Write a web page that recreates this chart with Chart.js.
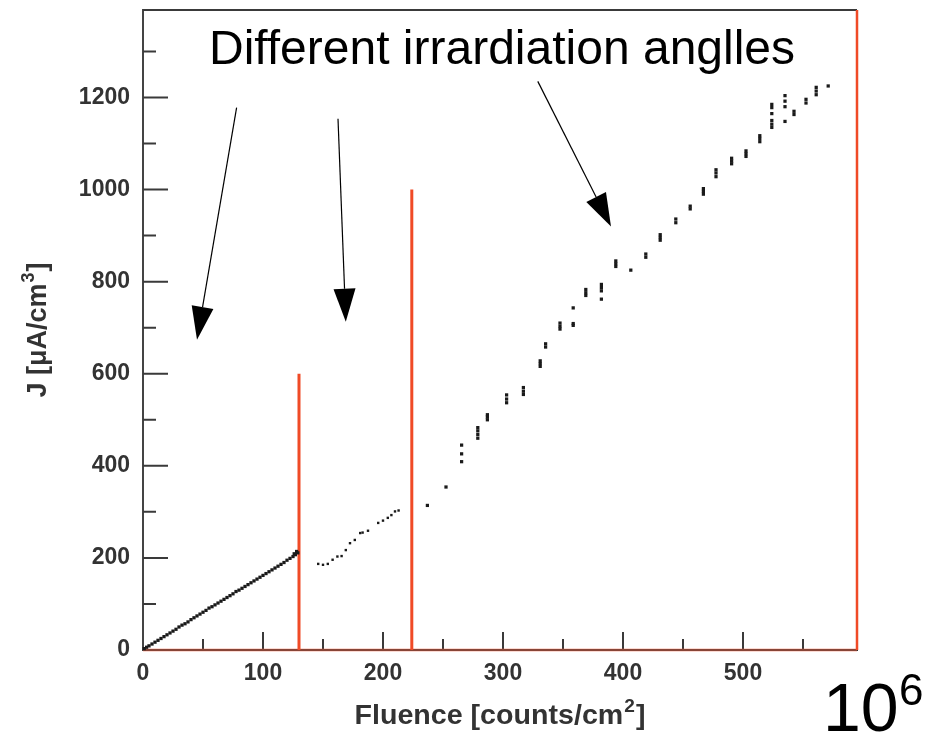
<!DOCTYPE html>
<html>
<head>
<meta charset="utf-8">
<script src="https://cdn.jsdelivr.net/npm/chart.js@4/dist/chart.umd.min.js"></script>
<style>
  html, body { margin: 0; padding: 0; background: #fff; }
</style>
</head>
<body>
<canvas id="chart" width="942" height="734"></canvas>
<script>
// first irradiation angle (dense run of points)
const seg1F = [1,3,5,7.5,10,12.5,15,17.5,20,22.5,25,27.5,30,32.5,35,37.5,40,42.5,45,47.5,50,52.5,55,57.5,60,62.5,65,67.5,70,72.5,75,77.5,80,82.5,85,87.5,90,92.5,95,97.5,100,102.5,105,107.5,110,112.5,115,117.5,120,122.5,125,127,129,126,128];
const seg1J = [3,6,9,13,17,21,25,29,33,37,41,45,50,54,57,61,66,70,74,78,82,86,91,94,98,102,106,110,114,118,122,127,130,134,138,142,146,150,154,158,162,166,170,174,178,182,186,190,195,199,203,207,211,209,214];

// second angle
const seg2F = [146,150,154,158,162,165.5,169,172.5,176.5,181,183,187.5,196,200,204,207,210,213];
const seg2J = [187,185,187,196,203,204,217,232,239,254,255,259,276,281,287,293,301,303];

// third angle (clusters)
const seg3F = [237,252.5,265.5,265.5,265.5,279,279,279,279,287,287,287,303,303,303,317,317,317,331,331,331,335.5,335.5,347.5,347.5,347.5,358.5,358.5,358.5,369,369,369,382,382,382,382,394,394,394,406.5,419,419,431,431,431,444,444,456,456,467,467,467,477.5,477.5,477.5,490.5,490.5,490.5,502.5,502.5,502.5,514,514,514,524,524,524,524,524,524,535,535,535,535,542.5,542.5,552.5,552.5,561,561,561,571];
const seg3J = [314,354,445,426,409,460,468,476,483,500,506,511,537,545,554,555,562,570,616,622,628,658,665,697,703,710,705,709,743,770,776,783,762,780,787,794,833,839,845,825,853,860,890,896,902,928,936,958,964,990,996,1002,1028,1036,1043,1056,1062,1068,1072,1078,1084,1104,1111,1117,1135,1142,1150,1165,1178,1185,1148,1180,1192,1204,1163,1170,1188,1196,1206,1214,1222,1225];

// red separators: fluence position and height
const markerF = [130, 224, 595];
const markerTop = [600, 1000, 1390];

// axes
const xMin = 0, xMax = 595;
const yMin = 0, yMax = 1390;
const xMajor = [0, 100, 200, 300, 400, 500];
const xMinor = [50, 150, 250, 350, 450, 550];
const yMajor = [0, 200, 400, 600, 800, 1000, 1200];
const yMinor = [100, 300, 500, 700, 900, 1100, 1300];

const pts = (xs, ys) => xs.map((v, i) => ({ x: v, y: ys[i] }));

const FONT = "'Liberation Sans', Arial, sans-serif";
const RED = '#f04a26';
const AXIS_INK = '#333';

const datasets = [
  { data: pts(seg1F, seg1J), pointRadius: 2.3 },
  { data: pts(seg2F, seg2J), pointRadius: 1.7 },
  { data: pts(seg3F, seg3J), pointRadius: 2.3 }
].map(d => Object.assign(d, {
  type: 'scatter', pointStyle: 'rect', backgroundColor: '#1a1a1a',
  borderWidth: 0, showLine: false, clip: false
}));

markerF.forEach((f, i) => {
  datasets.push({
    type: 'line', data: [{ x: f, y: 0 }, { x: f, y: markerTop[i] }],
    borderColor: RED, borderWidth: i === 2 ? 2.5 : 3, pointRadius: 0, clip: false
  });
});
// faint red base line along the x axis
datasets.push({
  type: 'line', data: [{ x: 0, y: 0 }, { x: xMax, y: 0 }],
  borderColor: 'rgba(240,90,60,0.45)', borderWidth: 3, pointRadius: 0, clip: false
});

// annotation arrows, given as [fromF, fromJ, tipF, tipJ]
const arrows = [[78, 1178, 45, 674], [162.5, 1154, 169, 713], [329, 1235, 390, 920]];

// title with a raised superscript, centred at (cx, cy)
function drawTitle(ctx, main, sup, tail, cx, cy, rot, stretch) {
  const big = 'bold 27px ' + FONT, small = 'bold 18px ' + FONT;
  ctx.font = big; const w1 = ctx.measureText(main).width, w3 = ctx.measureText(tail).width;
  ctx.font = small; const w2 = ctx.measureText(sup).width;
  const total = w1 + w2 + w3 + 2;
  ctx.save();
  ctx.translate(cx, cy);
  ctx.rotate(rot);
  ctx.scale(stretch, 1);
  ctx.fillStyle = AXIS_INK;
  ctx.textAlign = 'left';
  ctx.textBaseline = 'alphabetic';
  let px = -total / 2;
  ctx.font = big; ctx.fillText(main, px, 10); px += w1 + 1;
  ctx.font = small; ctx.fillText(sup, px, -2); px += w2 + 1;
  ctx.font = big; ctx.fillText(tail, px, 10);
  ctx.restore();
}

const frame = {
  id: 'frame',
  beforeDatasetsDraw(chart) {
    const { ctx, chartArea: a, scales: { x, y } } = chart;
    ctx.save();
    ctx.strokeStyle = '#3a3a3a';
    ctx.lineWidth = 2;
    ctx.beginPath();
    ctx.moveTo(a.left, a.top); ctx.lineTo(a.right, a.top);
    const tick = (vals, len) => vals.forEach(v => {
      if (v === 0) return;
      const px = x.getPixelForValue(v);
      ctx.moveTo(px, a.bottom); ctx.lineTo(px, a.bottom - len);
    });
    const ytick = (vals, len) => vals.forEach(v => {
      if (v === 0) return;
      const py = y.getPixelForValue(v);
      ctx.moveTo(a.left, py); ctx.lineTo(a.left + len, py);
    });
    tick(xMajor, 18); tick(xMinor, 11);
    ytick(yMajor, 25); ytick(yMinor, 13);
    ctx.stroke();
    ctx.restore();
  },
  afterDatasetsDraw(chart) {
    const { ctx, chartArea: a, scales: { x, y } } = chart;
    ctx.save();
    ctx.strokeStyle = '#000';
    ctx.fillStyle = '#000';
    ctx.lineWidth = 1.2;
    arrows.forEach(([f0, j0, f1, j1]) => {
      const x0 = x.getPixelForValue(f0), y0 = y.getPixelForValue(j0);
      const x1 = x.getPixelForValue(f1), y1 = y.getPixelForValue(j1);
      const len = Math.hypot(x1 - x0, y1 - y0);
      const ux = (x1 - x0) / len, uy = (y1 - y0) / len;
      const bx = x1 - ux * 33, by = y1 - uy * 33;
      ctx.beginPath();
      ctx.moveTo(x0, y0); ctx.lineTo(bx, by);
      ctx.stroke();
      ctx.beginPath();
      ctx.moveTo(x1, y1);
      ctx.lineTo(bx - uy * 11, by + ux * 11);
      ctx.lineTo(bx + uy * 11, by - ux * 11);
      ctx.closePath();
      ctx.fill();
    });

    ctx.textBaseline = 'alphabetic';
    ctx.textAlign = 'center';
    ctx.font = '48px ' + FONT;
    ctx.fillText('Different irrardiation anglles', 502, 64);

    ctx.textAlign = 'left';
    ctx.font = '68px ' + FONT;
    ctx.fillText('10', 823, 731);
    ctx.font = '44px ' + FONT;
    ctx.fillText('6', 899, 705);
    ctx.restore();

    // axis titles
    drawTitle(ctx, 'Fluence [counts/cm', '2', ']', (a.left + a.right) / 2, 714, 0, 1.06);
    drawTitle(ctx, 'J [\u03bcA/cm', '3', ']', 36, (a.top + a.bottom) / 2, -Math.PI / 2, 1);
  }
};

new Chart(document.getElementById('chart'), {
  data: { datasets },
  options: {
    responsive: false,
    animation: false,
    layout: { padding: { top: 10, right: 85, left: 0, bottom: 0 } },
    plugins: { legend: { display: false }, tooltip: { enabled: false } },
    scales: {
      x: {
        type: 'linear', min: xMin, max: xMax,
        afterFit: s => { s.height = 84; s.paddingLeft = 0; s.paddingRight = 0; },
        afterBuildTicks: s => { s.ticks = xMajor.map(v => ({ value: v })); },
        grid: { display: false, drawTicks: false },
        border: { color: '#333', width: 2 },
        ticks: {
          color: AXIS_INK, padding: 10, callback: v => String(v),
          font: { family: FONT, size: 23, weight: 'bold' }
        },
        title: { display: false }
      },
      y: {
        type: 'linear', min: yMin, max: yMax,
        afterFit: s => { s.width = 143; s.paddingTop = 0; s.paddingBottom = 0; },
        afterBuildTicks: s => { s.ticks = yMajor.map(v => ({ value: v })); },
        grid: { display: false, drawTicks: false },
        border: { color: '#444', width: 2 },
        ticks: {
          color: AXIS_INK, padding: 13, callback: v => String(v),
          font: { family: FONT, size: 23, weight: 'bold' }
        },
        title: { display: false }
      }
    }
  },
  plugins: [frame]
});
</script>
</body>
</html>
